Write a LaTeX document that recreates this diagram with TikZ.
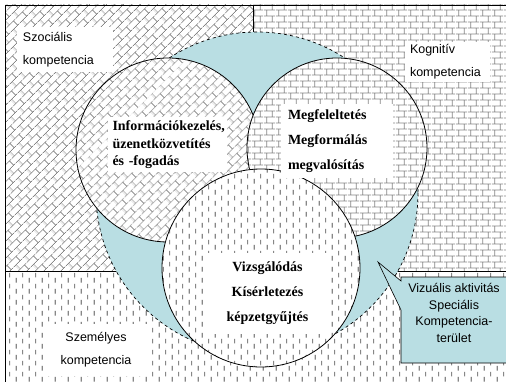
\documentclass[tikz,border=0pt]{standalone}
\usepackage{fontspec}
\setmainfont{Liberation Serif}
\newfontfamily\arialfont{Liberation Sans}
\usetikzlibrary{patterns.meta}
\usetikzlibrary{positioning}

\definecolor{aktivkek}{RGB}{185,222,227}
\definecolor{mintaszurke}{RGB}{135,135,135}

% mintak
\tikzdeclarepattern{
  name=ferdetegla,
  type=uncolored,
  bottom left={(0pt,0pt)},
  top right={(13pt,13pt)},
  tile size={(13pt,13pt)},
  tile transformation={rotate=45},
  code={
    \draw[line width=0.7pt] (0pt,1.625pt)--(13pt,1.625pt) (0pt,8.125pt)--(13pt,8.125pt)
      (3.25pt,1.625pt)--(3.25pt,8.125pt) (9.75pt,8.125pt)--(9.75pt,13pt) (9.75pt,0pt)--(9.75pt,1.625pt);
  }
}
\tikzdeclarepattern{
  name=tegla,
  type=uncolored,
  bottom left={(0pt,0pt)},
  top right={(12pt,12.4pt)},
  tile size={(12pt,12.4pt)},
  code={
    \draw[line width=0.8pt] (0pt,3.1pt)--(12pt,3.1pt) (0pt,9.3pt)--(12pt,9.3pt)
      (3pt,3.1pt)--(3pt,9.3pt) (9pt,9.3pt)--(9pt,12.4pt) (9pt,0pt)--(9pt,3.1pt);
  }
}
\tikzdeclarepattern{
  name=szaggatott,
  type=uncolored,
  bottom left={(0pt,0pt)},
  top right={(13.4pt,11pt)},
  tile size={(13.4pt,11pt)},
  code={
    \draw[line width=1.2pt] (3.35pt,0.5pt)--(3.35pt,5.5pt) (10.05pt,6pt)--(10.05pt,11pt);
  }
}

\tikzstyle{terulet} = [draw=black, line width=0.6pt, preaction={fill=white}, pattern color=mintaszurke]
\tikzstyle{kor} = [draw=black, line width=0.8pt, preaction={fill=white}, pattern color=mintaszurke]
\tikzstyle{kompfelirat} = [fill=white, font=\arialfont\fontsize{12.5}{23}\selectfont, align=left, inner ysep=0pt]
\tikzstyle{korfelirat} = [fill=white, font=\bfseries\fontsize{14}{25}\selectfont, align=left, inner ysep=0pt]

\begin{document}
\begin{tikzpicture}[x=1pt,y=-1pt]
\useasboundingbox (0,0) rectangle (506,382);

% kompetencia teruletek
\path[terulet, pattern=ferdetegla] (5,5) rectangle (253,271);
\path[terulet, pattern=tegla] (253,5) rectangle (515,272);
\path[terulet, pattern=szaggatott] (5,271) rectangle (515,390);

% vizualis aktivitas
\draw[dashed, line width=0.7pt, fill=aktivkek] (257,193) circle (161);

% korok
\path[kor, pattern=ferdetegla] (168,150) circle (92);
\path[kor, pattern=tegla] (337,148) circle (90);
\path[kor, pattern=szaggatott] (261,268) circle (99);

\node (szoc) [kompfelirat, text width=84pt, inner xsep=6pt, minimum height=45pt] at (65,49.5) {Szociális\\kompetencia};
\node (kogn) [kompfelirat, text width=75pt, inner xsep=5pt, minimum height=40pt] at (447.5,62) {Kognitív\\kompetencia};
\node (szem) [kompfelirat, align=center, text width=90pt, inner xsep=6pt, minimum height=52pt] at (96,350) {Személyes\\kompetencia};

\node (info) [korfelirat, font=\bfseries\fontsize{14}{17.5}\selectfont, text width=110pt, inner xsep=4.5pt, minimum height=55pt] at (167.5,145) {Információkezelés,\\üzenetközvetítés\\és~-fogadás};
\node (megf) [korfelirat, text width=98pt, inner xsep=7pt, minimum height=74pt] at (337,141.5) {Megfeleltetés\\Megformálás\\megvalósítás};
\node (vizs) [korfelirat, align=center, text width=113pt, inner xsep=6pt, minimum height=81pt] at (267.5,293.5) {Vizsgálódás\\Kísérletezés\\képzetgyűjtés};

% szovegbuborek
\draw[line width=0.6pt, fill=aktivkek] (378,262) -- (401,281) -- (401,277) -- (515,277) -- (515,363) -- (401,363) -- (401,310) -- cycle;
\node (spec) [font=\arialfont\fontsize{12.5}{16.8}\selectfont, align=center] at (454,313) {Vizuális aktivitás\\Speciális\\Kompetencia-\\terület};
\end{tikzpicture}
\end{document}
